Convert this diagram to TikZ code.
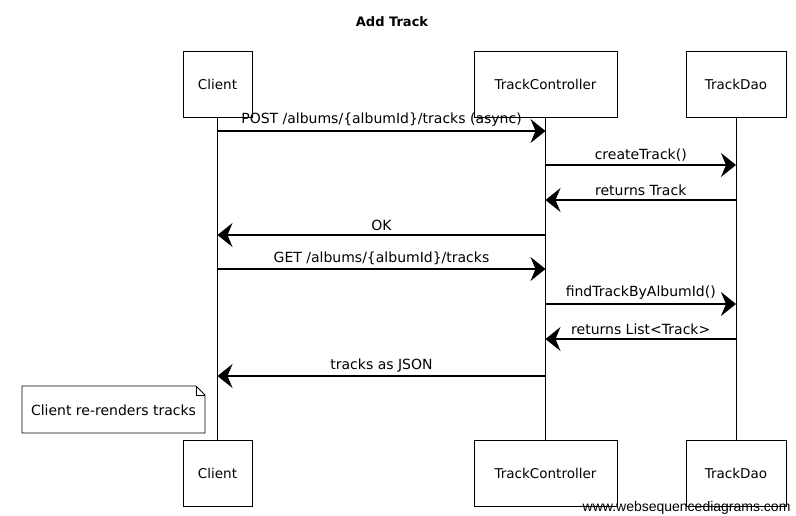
\documentclass[tikz,border=0pt]{standalone}
\usepackage{fontspec}
\setmainfont{DejaVu Sans}
\newfontfamily\wsdfont{Liberation Sans}
\usetikzlibrary{arrows.meta}

\tikzset{
  actor/.style={draw, line width=0.9pt, minimum height=66pt, inner xsep=0pt, font=\fontsize{13.5}{15}\selectfont},
  msg/.style={line width=1.3pt, -{Stealth[length=15pt,width=24pt,inset=5pt]}},
  lbl/.style={font=\fontsize{14}{16}\selectfont, above, inner sep=3.5pt},
  life/.style={line width=0.7pt}
}

\begin{document}
\begin{tikzpicture}[x=1pt,y=-1pt]
\useasboundingbox (0,0) rectangle (796,515);
\node[font=\bfseries\fontsize{13}{15}\selectfont] (title) at (392,22) {Add Track};
% participants, top row
\node[actor, minimum width=69pt] (clientTop) at (217.5,84) {Client};
\node[actor, minimum width=143pt] (ctrlTop) at (545.5,84) {TrackController};
\node[actor, minimum width=100pt] (daoTop) at (736,84) {TrackDao};
% participants, bottom row
\node[actor, minimum width=69pt] (clientBot) at (217.5,473) {Client};
\node[actor, minimum width=143pt] (ctrlBot) at (545.5,473) {TrackController};
\node[actor, minimum width=100pt] (daoBot) at (736,473) {TrackDao};
% lifelines
\draw[life] (clientTop) -- (clientBot);
\draw[life] (ctrlTop) -- (ctrlBot);
\draw[life] (daoTop) -- (daoBot);
% messages
\draw[msg] (clientTop |- 0,131) -- (ctrlTop |- 0,131) node[lbl, midway] {POST /albums/\{albumId\}/tracks (async)};
\draw[msg] (ctrlTop |- 0,165) -- (daoTop |- 0,165) node[lbl, midway] {createTrack()};
\draw[msg] (daoTop |- 0,200) -- (ctrlTop |- 0,200) node[lbl, midway] {returns Track};
\draw[msg] (ctrlTop |- 0,235) -- (clientTop |- 0,235) node[lbl, midway] {OK};
\draw[msg] (clientTop |- 0,269) -- (ctrlTop |- 0,269) node[lbl, midway] {GET /albums/\{albumId\}/tracks};
\draw[msg] (ctrlTop |- 0,304) -- (daoTop |- 0,304) node[lbl, midway] {findTrackByAlbumId()};
\draw[msg] (daoTop |- 0,339) -- (ctrlTop |- 0,339) node[lbl, midway] {returns List<Track>};
\draw[msg] (ctrlTop |- 0,376) -- (clientTop |- 0,376) node[lbl, midway] {tracks as JSON};
% note
\draw[line width=0.8pt, fill=white] (22,386) -- (196,386) -- (205,395) -- (205,433) -- (22,433) -- cycle;
\draw[line width=0.6pt] (196,386) -- (196,395) -- (205,395);
\node[font=\fontsize{14}{16}\selectfont] (note) at (113.5,410) {Client re-renders tracks};
\node[anchor=east, font=\wsdfont\fontsize{14}{16}\selectfont] (wsd) at (794,508) {www.websequencediagrams.com};
\end{tikzpicture}
\end{document}
